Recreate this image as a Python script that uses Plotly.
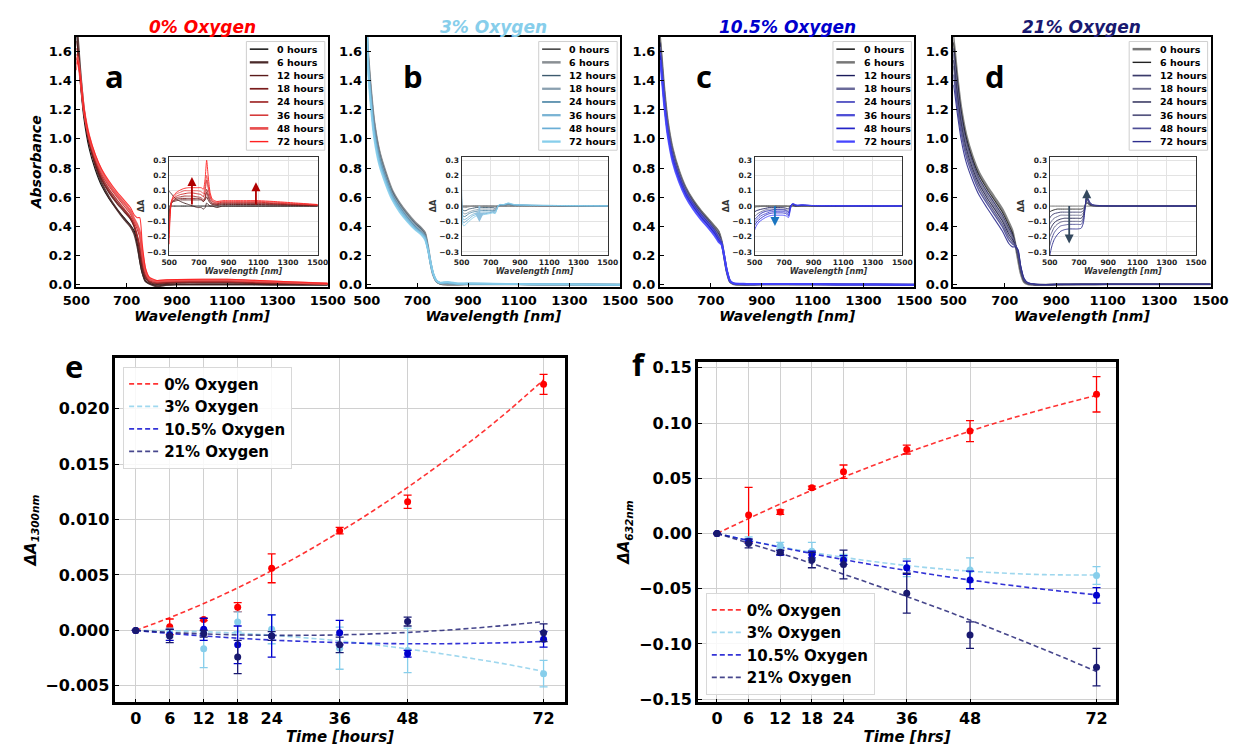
import numpy as np
import plotly.graph_objects as go

W, H = 1249, 749
FONT = "DejaVu Sans"

# ---------------- data: spectra ----------------
WL = [500, 505, 515, 530, 550, 575, 600, 630, 660, 690, 715, 730, 742, 752, 762,
      775, 790, 820, 860, 900, 1000, 1100, 1200, 1350, 1500]
TIMES = [0, 6, 12, 18, 24, 36, 48, 72]
TIME_LABELS = ["0 hours", "6 hours", "12 hours", "18 hours", "24 hours", "36 hours", "48 hours", "72 hours"]

# panel a (0% oxygen)
A0_a = [1.72, 1.62, 1.40, 1.14, 0.94, 0.79, 0.68, 0.59, 0.52, 0.46, 0.41, 0.37, 0.28, 0.16, 0.08,
        0.025, 0.008, 0.0, 0.0, 0.002, 0.003, 0.003, 0.002, 0.001, 0.0]
dA_a_6 = [0.10, 0.09, 0.08, 0.06, 0.045, 0.03, 0.02, 0.01, 0.0, -0.01, -0.01, -0.02, -0.01, 0.02, 0.01,
          0.0, 0.0, -0.01, 0.0, 0.0, 0.0, 0.0, 0.0, 0.0, 0.0]
dA_a_12 = [-0.05, 0.0, 0.02, 0.03, 0.035, 0.04, 0.04, 0.04, 0.04, 0.04, 0.04, 0.03, 0.04, 0.06, 0.04,
           0.02, 0.01, 0.005, 0.01, 0.01, 0.01, 0.01, 0.008, 0.005, 0.002]
dA_a_18 = [-0.10, -0.02, 0.02, 0.035, 0.045, 0.05, 0.05, 0.05, 0.05, 0.05, 0.045, 0.03, 0.05, 0.09, 0.06,
           0.03, 0.015, 0.01, 0.015, 0.015, 0.015, 0.015, 0.012, 0.008, 0.004]
dA_a_24 = [-0.15, -0.04, 0.02, 0.04, 0.055, 0.06, 0.065, 0.065, 0.065, 0.06, 0.055, 0.04, 0.06, 0.11, 0.08,
           0.04, 0.02, 0.015, 0.02, 0.02, 0.02, 0.02, 0.016, 0.01, 0.005]
dA_a_36 = [-0.18, -0.05, 0.03, 0.05, 0.065, 0.075, 0.08, 0.085, 0.085, 0.08, 0.075, 0.06, 0.10, 0.17, 0.12,
           0.06, 0.03, 0.02, 0.025, 0.025, 0.025, 0.025, 0.02, 0.013, 0.006]
dA_a_48 = [-0.21, -0.06, 0.03, 0.06, 0.08, 0.09, 0.10, 0.10, 0.10, 0.10, 0.095, 0.08, 0.13, 0.20, 0.14,
           0.07, 0.035, 0.025, 0.03, 0.03, 0.03, 0.03, 0.025, 0.016, 0.008]
dA_a_72 = [-0.25, -0.08, 0.03, 0.07, 0.09, 0.105, 0.115, 0.12, 0.12, 0.12, 0.12, 0.11, 0.18, 0.30, 0.20,
           0.09, 0.045, 0.03, 0.035, 0.035, 0.035, 0.035, 0.03, 0.02, 0.01]

# panel b (3% oxygen)
A0_b = [1.70, 1.60, 1.38, 1.12, 0.92, 0.77, 0.65, 0.56, 0.49, 0.43, 0.39, 0.36, 0.26, 0.15, 0.07,
        0.02, 0.005, 0.0, 0.0, 0.002, 0.002, 0.002, 0.001, 0.001, 0.0]
dA_b_6 = [0.0, -0.01, -0.01, -0.01, -0.005, 0.0, 0.0, 0.0, 0.0, 0.0, 0.0, -0.005, 0.0, 0.0, 0.0,
          0.005, 0.005, 0.005, 0.005, 0.003, 0.002, 0.002, 0.001, 0.001, 0.0]
dA_b_12 = [0.05, -0.02, -0.03, -0.03, -0.02, -0.015, -0.01, -0.01, -0.01, -0.01, -0.01, -0.015, -0.005, 0.0, 0.005,
           0.005, 0.005, 0.01, 0.005, 0.005, 0.003, 0.003, 0.002, 0.002, 0.0]
dA_b_18 = [0.10, -0.03, -0.05, -0.05, -0.04, -0.03, -0.025, -0.02, -0.02, -0.02, -0.02, -0.025, -0.01, 0.0, 0.005,
           0.005, 0.005, 0.01, 0.005, 0.005, 0.003, 0.003, 0.002, 0.002, 0.0]
dA_b_24 = [0.15, -0.05, -0.07, -0.065, -0.05, -0.04, -0.035, -0.03, -0.03, -0.03, -0.03, -0.03, -0.015, 0.0, 0.005,
           0.008, 0.008, 0.012, 0.006, 0.005, 0.004, 0.003, 0.002, 0.002, 0.001]
dA_b_36 = [0.20, -0.07, -0.09, -0.085, -0.07, -0.055, -0.045, -0.04, -0.04, -0.04, -0.035, -0.035, -0.02, 0.0, 0.008,
           0.008, 0.008, 0.015, 0.007, 0.006, 0.004, 0.003, 0.003, 0.002, 0.001]
dA_b_48 = [0.22, -0.09, -0.11, -0.10, -0.085, -0.065, -0.055, -0.05, -0.05, -0.045, -0.04, -0.045, -0.02, 0.0, 0.01,
           0.01, 0.01, 0.018, 0.008, 0.007, 0.005, 0.004, 0.003, 0.002, 0.001]
dA_b_72 = [0.25, -0.11, -0.13, -0.12, -0.10, -0.08, -0.065, -0.06, -0.055, -0.05, -0.045, -0.05, -0.02, 0.005, 0.01,
           0.01, 0.01, 0.02, 0.01, 0.008, 0.005, 0.004, 0.003, 0.002, 0.001]

# panel c (10.5% oxygen)
A0_c = [1.70, 1.60, 1.38, 1.13, 0.93, 0.78, 0.67, 0.58, 0.51, 0.45, 0.40, 0.37, 0.30, 0.19, 0.09,
        0.02, 0.005, 0.0, 0.0, 0.003, 0.003, 0.003, 0.002, 0.002, 0.0]
dA_c_6 = [-0.01, -0.01, -0.005, -0.005, 0.0, 0.0, 0.0, 0.0, 0.0, 0.0, 0.0, -0.005, 0.0, 0.005, 0.005,
          0.0, 0.0, 0.0, 0.0, 0.0, 0.0, 0.0, 0.0, 0.0, 0.0]
dA_c_12 = [-0.04, -0.035, -0.03, -0.025, -0.02, -0.015, -0.01, -0.01, -0.01, -0.01, -0.015, -0.02, 0.0, 0.01, 0.005,
           0.0, 0.0, 0.002, 0.002, 0.001, 0.0, 0.0, 0.0, 0.0, 0.0]
dA_c_18 = [-0.07, -0.065, -0.055, -0.045, -0.035, -0.025, -0.02, -0.02, -0.02, -0.02, -0.025, -0.035, -0.005, 0.01, 0.01,
           0.005, 0.002, 0.004, 0.003, 0.002, 0.001, 0.001, 0.0, 0.0, 0.0]
dA_c_24 = [-0.09, -0.085, -0.075, -0.06, -0.045, -0.035, -0.03, -0.025, -0.025, -0.025, -0.03, -0.045, -0.01, 0.01, 0.01,
           0.005, 0.003, 0.005, 0.004, 0.002, 0.001, 0.001, 0.001, 0.0, 0.0]
dA_c_36 = [-0.11, -0.10, -0.09, -0.075, -0.06, -0.05, -0.04, -0.035, -0.035, -0.035, -0.04, -0.055, -0.015, 0.01, 0.012,
           0.005, 0.004, 0.006, 0.004, 0.003, 0.002, 0.001, 0.001, 0.001, 0.0]
dA_c_48 = [-0.13, -0.12, -0.105, -0.09, -0.075, -0.06, -0.05, -0.045, -0.045, -0.045, -0.05, -0.065, -0.02, 0.012, 0.015,
           0.008, 0.005, 0.007, 0.005, 0.003, 0.002, 0.002, 0.001, 0.001, 0.0]
dA_c_72 = [-0.16, -0.145, -0.125, -0.105, -0.09, -0.075, -0.065, -0.06, -0.06, -0.06, -0.065, -0.075, -0.025, 0.012, 0.015,
           0.01, 0.005, 0.008, 0.005, 0.003, 0.002, 0.002, 0.001, 0.001, 0.0]

# panel d (21% oxygen)
A0_d = [1.70, 1.62, 1.44, 1.22, 1.03, 0.88, 0.77, 0.68, 0.60, 0.52, 0.43, 0.37, 0.27, 0.17, 0.08,
        0.02, 0.005, 0.0, 0.0, 0.002, 0.003, 0.004, 0.004, 0.004, 0.004]
dA_d_6 = [-0.04, -0.035, -0.03, -0.025, -0.02, -0.02, -0.02, -0.02, -0.02, -0.02, -0.02, -0.015, 0.0, 0.02, 0.015,
          0.005, 0.002, 0.0, 0.0, 0.0, 0.0, 0.0, 0.0, 0.0, 0.0]
dA_d_12 = [-0.08, -0.07, -0.06, -0.05, -0.045, -0.04, -0.04, -0.04, -0.04, -0.04, -0.04, -0.03, 0.0, 0.03, 0.02,
           0.008, 0.003, 0.001, 0.0, 0.0, 0.0, 0.0, 0.0, 0.0, 0.0]
dA_d_18 = [-0.12, -0.11, -0.095, -0.08, -0.07, -0.06, -0.06, -0.06, -0.06, -0.06, -0.06, -0.045, 0.0, 0.04, 0.03,
           0.01, 0.004, 0.001, 0.0, 0.0, 0.0, 0.0, 0.0, 0.0, 0.0]
dA_d_24 = [-0.16, -0.15, -0.13, -0.11, -0.095, -0.085, -0.08, -0.08, -0.08, -0.08, -0.08, -0.06, 0.0, 0.05, 0.035,
           0.012, 0.005, 0.002, 0.001, 0.0, 0.0, 0.0, 0.0, 0.0, 0.0]
dA_d_36 = [-0.20, -0.19, -0.17, -0.14, -0.12, -0.105, -0.10, -0.10, -0.10, -0.10, -0.10, -0.075, 0.0, 0.055, 0.04,
           0.015, 0.006, 0.002, 0.001, 0.001, 0.0, 0.0, 0.0, 0.0, 0.0]
dA_d_48 = [-0.26, -0.24, -0.21, -0.175, -0.15, -0.13, -0.125, -0.12, -0.12, -0.12, -0.12, -0.09, -0.005, 0.06, 0.045,
           0.02, 0.008, 0.003, 0.001, 0.001, 0.0, 0.0, 0.0, 0.0, 0.0]
dA_d_72 = [-0.33, -0.30, -0.26, -0.22, -0.19, -0.165, -0.155, -0.15, -0.15, -0.15, -0.145, -0.11, -0.01, 0.07, 0.05,
           0.025, 0.01, 0.005, 0.002, 0.001, 0.0, 0.0, 0.0, 0.0, 0.0]

# ---------------- data: kinetics ----------------
T_PTS = [0, 6, 12, 18, 24, 36, 48, 72]
T_FIT = [0, 6, 12, 18, 24, 30, 36, 42, 48, 54, 60, 66, 72]
SERIES = ["0% Oxygen", "3% Oxygen", "10.5% Oxygen", "21% Oxygen"]

e_0 = [0, 0.00033, 0.00098, 0.0021, 0.0056, 0.0090, 0.0116, 0.0222]
e_0_err = [0, 0.0007, 0.0001, 0.0004, 0.0013, 0.0003, 0.0006, 0.0009]
e_3 = [0, -0.0002, -0.00166, 0.00077, 0.0001, -0.0016, -0.0018, -0.0039]
e_3_err = [0, 0.0004, 0.0017, 0.0009, 0.0013, 0.0019, 0.0020, 0.0012]
e_10 = [0, -0.0004, 0.0001, -0.0013, -0.0005, -0.0002, -0.0021, -0.0008]
e_10_err = [0, 0.0005, 0.0010, 0.0017, 0.0019, 0.0011, 0.0003, 0.0007]
e_21 = [0, -0.0005, -0.0003, -0.0024, -0.0005, -0.0013, 0.0008, -0.0002]
e_21_err = [0, 0.0006, 0.0003, 0.0015, 0.0004, 0.0007, 0.0004, 0.0008]

e_fit_0 = [0, 0.00115, 0.00243, 0.00384, 0.00539, 0.00707, 0.0089, 0.01082, 0.0129, 0.0151, 0.0174, 0.0199, 0.0226]
e_fit_3 = [0, -0.00003, -0.00012, -0.00025, -0.00043, -0.00067, -0.00095, -0.00128, -0.00167, -0.0021, -0.00258, -0.0031, -0.0037]
e_fit_10 = [0, -0.00027, -0.0005, -0.0007, -0.00087, -0.001, -0.0011, -0.00117, -0.0012, -0.0012, -0.00116, -0.0011, -0.001]
e_fit_21 = [0, -0.00018, -0.00031, -0.0004, -0.00044, -0.00044, -0.0004, -0.00031, -0.00018, 0.0, 0.00022, 0.00049, 0.0008]

f_0 = [0, 0.0167, 0.0194, 0.0414, 0.056, 0.076, 0.0927, 0.126]
f_0_err = [0, 0.025, 0.002, 0.0015, 0.006, 0.004, 0.0095, 0.016]
f_3 = [0, -0.006, -0.011, -0.016, -0.022, -0.031, -0.033, -0.038]
f_3_err = [0, 0.003, 0.003, 0.008, 0.003, 0.008, 0.011, 0.008]
f_10 = [0, -0.007, -0.0175, -0.019, -0.024, -0.031, -0.042, -0.056]
f_10_err = [0, 0.002, 0.002, 0.003, 0.004, 0.006, 0.008, 0.007]
f_21 = [0, -0.009, -0.017, -0.024, -0.028, -0.054, -0.092, -0.121]
f_21_err = [0, 0.004, 0.002, 0.007, 0.013, 0.018, 0.012, 0.017]

f_fit_0 = [0, 0.0136, 0.0267, 0.0391, 0.051, 0.0623, 0.073, 0.0832, 0.0927, 0.1017, 0.11, 0.1178, 0.125]
f_fit_3 = [0, -0.0063, -0.0119, -0.0171, -0.0216, -0.0256, -0.029, -0.0318, -0.0341, -0.0358, -0.037, -0.0375, -0.0375]
f_fit_10 = [0, -0.0064, -0.0124, -0.0182, -0.0236, -0.0287, -0.0335, -0.038, -0.0421, -0.0459, -0.0494, -0.0526, -0.0555]
f_fit_21 = [0, -0.0087, -0.0178, -0.0271, -0.0368, -0.0467, -0.057, -0.0675, -0.0784, -0.0896, -0.1011, -0.1128, -0.125]

# ---------------- styles ----------------
COL_A = ['#000000', '#4a2a2a', '#5a1a1a', '#7a1c1c', '#a02a2a', '#d02020', '#e85050', '#ff2020']
COL_B = ['#2b2b2b', '#8a8f94', '#3d5a6e', '#8aa0b0', '#4f88a8', '#7ab4d4', '#6aaed6', '#87ceeb']
COL_C = ['#000000', '#777777', '#1a1a5a', '#6a6a9a', '#1c1cb0', '#4d4dd6', '#2424c8', '#4545ff']
COL_D = ['#777777', '#222222', '#3a3a6a', '#6a6a8c', '#20204e', '#55557f', '#4e4e96', '#2e2e8e']
WID_A = [1.1, 2.0, 1.1, 1.4, 1.4, 1.1, 2.4, 1.1]
WID_B = [1.1, 2.2, 1.1, 2.0, 1.4, 2.0, 1.4, 2.0]
WID_C = [1.1, 2.2, 1.1, 2.2, 1.1, 2.0, 1.4, 2.0]
WID_D = [2.2, 1.1, 1.4, 1.6, 1.1, 1.4, 1.4, 1.1]
KIN_COL = ['#ff0000', '#87ceeb', '#0000cd', '#191970']


def xp(px):
    return px / W


def yp(py):
    return 1 - py / H


panels = [
    dict(A0=A0_a, dA=[dA_a_6, dA_a_12, dA_a_18, dA_a_24, dA_a_36, dA_a_48, dA_a_72], col=COL_A, wid=WID_A,
         title="0% Oxygen", tcol="#ff0000", letter="a", x0=64, x1=322, ix0=159.3, ix1=311.7, lx=103,
         arrows=[(653, 0.0, 653, 0.19, '#b00000'), (1084, 0.0, 1084, 0.155, '#b00000')]),
    dict(A0=A0_b, dA=[dA_b_6, dA_b_12, dA_b_18, dA_b_24, dA_b_36, dA_b_48, dA_b_72], col=COL_B, wid=WID_B,
         title="3% Oxygen", tcol="#87ceeb", letter="b", x0=362, x1=622, ix0=459.3, ix1=609.3, lx=409,
         arrows=[(622, 0.01, 622, -0.105, '#8fc1df')]),
    dict(A0=A0_c, dA=[dA_c_6, dA_c_12, dA_c_18, dA_c_24, dA_c_36, dA_c_48, dA_c_72], col=COL_C, wid=WID_C,
         title="10.5% Oxygen", tcol="#0000cd", letter="c", x0=663, x1=924, ix0=760, ix1=911.7, lx=708,
         arrows=[(638, 0.01, 638, -0.13, '#1a75c0')]),
    dict(A0=A0_d, dA=[dA_d_6, dA_d_12, dA_d_18, dA_d_24, dA_d_36, dA_d_48, dA_d_72], col=COL_D, wid=WID_D,
         title="21% Oxygen", tcol="#191970", letter="d", x0=964, x1=1228, ix0=1063, ix1=1213, lx=1007,
         arrows=[(633, 0.01, 633, -0.245, '#34495e'), (753, 0.03, 753, 0.11, '#34495e')]),
]

TOP_Y0, TOP_Y1 = 34, 287.5
INS_Y0, INS_Y1 = 156, 255

fig = go.Figure()
layout = dict(width=W, height=H, autosize=False, margin=dict(l=0, r=0, t=0, b=0),
              paper_bgcolor='white', plot_bgcolor='white', showlegend=True)
shapes = []
annotations = []

tickfont_main = dict(family=FONT, size=13, color='black', weight='bold')
tickfont_ins = dict(family=FONT, size=7.5, color='#222222', weight='bold')

for i, p in enumerate(panels):
    n = i + 1
    ni = i + 5
    xa = 'x' if n == 1 else f'x{n}'
    ya = 'y' if n == 1 else f'y{n}'
    xi, yi = f'x{ni}', f'y{ni}'
    A0 = np.array(p['A0'])
    dlist = [A0 - A0] + [np.array(d) for d in p['dA']]
    for k, t in enumerate(TIMES):
        fig.add_trace(go.Scatter(x=WL, y=A0 + dlist[k], mode='lines', xaxis=xa, yaxis=ya,
                                 line=dict(color=p['col'][k], width=p['wid'][k], shape='spline', smoothing=0.6),
                                 opacity=0.9, showlegend=False, name=TIME_LABELS[k], hoverinfo='skip'))
    for k, t in enumerate(TIMES):
        fig.add_trace(go.Scatter(x=WL, y=dlist[k], mode='lines', xaxis=xi, yaxis=yi,
                                 line=dict(color=p['col'][k], width=1.0, shape='spline', smoothing=0.6),
                                 opacity=0.9, showlegend=False, name=TIME_LABELS[k], hoverinfo='skip'))
    # main axes
    layout['xaxis' if n == 1 else f'xaxis{n}'] = dict(
        domain=[xp(p['x0']), xp(p['x1'])], anchor=ya, range=[500, 1500],
        tickvals=[500, 700, 900, 1100, 1300, 1500], showline=True, linewidth=2, linecolor='black',
        mirror=True, ticks='inside', ticklen=4, tickcolor='black', showgrid=False, zeroline=False,
        tickfont=tickfont_main,
        title=dict(text='<b><i>Wavelength [nm]</i></b>', font=dict(family=FONT, size=14, color='black'), standoff=2))
    ydict = dict(domain=[yp(TOP_Y1), yp(TOP_Y0)], anchor=xa, range=[-0.015, 1.70],
                 tickvals=[0, 0.2, 0.4, 0.6, 0.8, 1.0, 1.2, 1.4, 1.6], tickformat='.1f',
                 showline=True, linewidth=2, linecolor='black', mirror=True, ticks='inside', ticklen=4,
                 tickcolor='black', showgrid=False, zeroline=False, tickfont=tickfont_main)
    if n == 1:
        ydict['title'] = dict(text='<b><i>Absorbance</i></b>', font=dict(family=FONT, size=14, color='black'),
                              standoff=4)
    layout['yaxis' if n == 1 else f'yaxis{n}'] = ydict
    # inset axes
    layout[f'xaxis{ni}'] = dict(
        domain=[xp(p['ix0']), xp(p['ix1'])], anchor=yi, range=[500, 1500],
        tickvals=[500, 700, 900, 1100, 1300, 1500], showline=True, linewidth=1.3, linecolor='#333333',
        mirror=True, ticks='', showgrid=True, gridcolor='#e3e3e3', gridwidth=1, zeroline=False,
        tickfont=tickfont_ins,
        title=dict(text='<b><i>Wavelength [nm]</i></b>', font=dict(family=FONT, size=8, color='#333333'),
                   standoff=1))
    layout[f'yaxis{ni}'] = dict(
        domain=[yp(INS_Y1), yp(INS_Y0)], anchor=xi, range=[-0.32, 0.32],
        tickvals=[-0.3, -0.2, -0.1, 0, 0.1, 0.2, 0.3], tickformat='.1f', showline=True, linewidth=1.3,
        linecolor='#333333', mirror=True, ticks='', showgrid=True, gridcolor='#e3e3e3', gridwidth=1,
        zeroline=False, tickfont=tickfont_ins,
        title=dict(text='<b>ΔA</b>', font=dict(family=FONT, size=8, color='#333333'), standoff=1))
    # arrows
    for (tx, ty, hx, hy, c) in p['arrows']:
        annotations.append(dict(x=hx, y=hy, ax=tx, ay=ty, xref=xi, yref=yi, axref=xi, ayref=yi,
                                showarrow=True, arrowhead=2, arrowsize=1.0, arrowwidth=1.8, arrowcolor=c,
                                text=''))
    # panel title
    annotations.append(dict(x=xp((p['x0'] + p['x1']) / 2), y=yp(24), xref='paper', yref='paper',
                            text=f"<b><i>{p['title']}</i></b>", showarrow=False, xanchor='center',
                            yanchor='middle', font=dict(family=FONT, size=17, color=p['tcol'])))
    # panel letter
    annotations.append(dict(x=xp(p['lx']), y=yp(74), xref='paper', yref='paper', text=f"<b>{p['letter']}</b>",
                            showarrow=False, xanchor='center', yanchor='middle',
                            font=dict(family='Open Sans', size=31, color='black')))
    # custom legend box
    bx1 = p['x1'] - 3.0
    bx0 = bx1 - 80.5
    shapes.append(dict(type='rect', xref='paper', yref='paper', x0=xp(bx0), x1=xp(bx1), y0=yp(149), y1=yp(39),
                       fillcolor='white', line=dict(color='#cfcfcf', width=1), layer='above'))
    for k, lab in enumerate(TIME_LABELS):
        yy = 46.7 + 13.37 * k
        shapes.append(dict(type='line', xref='paper', yref='paper', x0=xp(bx0 + 3.5), x1=xp(bx0 + 22.5),
                           y0=yp(yy), y1=yp(yy), line=dict(color=p['col'][k], width=p['wid'][k] + 0.3),
                           layer='above'))
        annotations.append(dict(x=xp(bx0 + 29.5), y=yp(yy), xref='paper', yref='paper', text=f"<b>{lab}</b>",
                                showarrow=False, xanchor='left', yanchor='middle',
                                font=dict(family=FONT, size=9.5, color='black')))

# ---------------- kinetics panels ----------------
kin = [
    dict(ax='9', data=[e_0, e_3, e_10, e_21], err=[e_0_err, e_3_err, e_10_err, e_21_err],
         fit=[e_fit_0, e_fit_3, e_fit_10, e_fit_21], legend='legend5'),
    dict(ax='10', data=[f_0, f_3, f_10, f_21], err=[f_0_err, f_3_err, f_10_err, f_21_err],
         fit=[f_fit_0, f_fit_3, f_fit_10, f_fit_21], legend='legend6'),
]
for kp in kin:
    for s in range(4):
        fig.add_trace(go.Scatter(x=T_FIT, y=kp['fit'][s], mode='lines', xaxis='x' + kp['ax'], yaxis='y' + kp['ax'],
                                 line=dict(color=KIN_COL[s], width=1.6, dash='5px,3px', shape='spline'),
                                 opacity=0.8, name=SERIES[s], legend=kp['legend'], showlegend=True))
    for s in range(4):
        errs = [None if v == 0 else v for v in kp['err'][s]]
        fig.add_trace(go.Scatter(x=T_PTS, y=kp['data'][s], mode='markers', xaxis='x' + kp['ax'],
                                 yaxis='y' + kp['ax'], marker=dict(color=KIN_COL[s], size=7),
                                 error_y=dict(type='data', array=errs, color=KIN_COL[s], thickness=1.3, width=4),
                                 name=SERIES[s], showlegend=False))

bottom_x = dict(range=[-3.6, 75.7], tickvals=T_PTS, showline=True, linewidth=2.6, linecolor='black', mirror=True,
                ticks='inside', ticklen=4, tickcolor='black', showgrid=True, gridcolor='#d0d0d0', gridwidth=1,
                zeroline=False, tickfont=dict(family=FONT, size=16, color='black', weight='bold'))
bottom_y = dict(showline=True, linewidth=2.6, linecolor='black', mirror=True, ticks='inside', ticklen=4,
                tickcolor='black', showgrid=True, gridcolor='#d0d0d0', gridwidth=1, zeroline=False,
                tickfont=dict(family=FONT, size=16, color='black', weight='bold'))

layout['xaxis9'] = dict(bottom_x, domain=[xp(104), xp(565)], anchor='y9',
                        title=dict(text='<b><i>Time [hours]</i></b>', font=dict(family=FONT, size=15, color='black'),
                                   standoff=4))
layout['yaxis9'] = dict(bottom_y, domain=[yp(708), yp(359)], anchor='x9', range=[-0.0065, 0.0246],
                        tickvals=[-0.005, 0, 0.005, 0.01, 0.015, 0.02], tickformat='.3f',
                        title=dict(text='<b><i>ΔA</i><sub><i>1300nm</i></sub></b>',
                                   font=dict(family=FONT, size=15, color='black'), standoff=6))
layout['xaxis10'] = dict(bottom_x, domain=[xp(702), xp(1131)], anchor='y10',
                         title=dict(text='<b><i>Time [hrs]</i></b>', font=dict(family=FONT, size=15, color='black'),
                                    standoff=4))
layout['yaxis10'] = dict(bottom_y, domain=[yp(708), yp(363)], anchor='x10', range=[-0.153, 0.1556],
                         tickvals=[-0.15, -0.1, -0.05, 0, 0.05, 0.1, 0.15], tickformat='.2f',
                         title=dict(text='<b><i>ΔA</i><sub><i>632nm</i></sub></b>',
                                    font=dict(family=FONT, size=15, color='black'), standoff=6))

leg_common = dict(bgcolor='rgba(255,255,255,0.85)', bordercolor='#d8d8d8', borderwidth=1,
                  font=dict(family=FONT, size=15, color='black', weight='bold'), tracegroupgap=0,
                  itemwidth=30, xref='paper', yref='paper')
layout['legend5'] = dict(leg_common, x=xp(112), y=yp(368), xanchor='left', yanchor='top')
layout['legend6'] = dict(leg_common, x=xp(710), y=yp(700), xanchor='left', yanchor='bottom')

annotations.append(dict(x=xp(62), y=yp(367), xref='paper', yref='paper', text='<b>e</b>', showarrow=False,
                        xanchor='center', yanchor='middle', font=dict(family='Open Sans', size=31, color='black')))
annotations.append(dict(x=xp(641), y=yp(365), xref='paper', yref='paper', text='<b>f</b>', showarrow=False,
                        xanchor='center', yanchor='middle', font=dict(family='Open Sans', size=31, color='black')))

layout['shapes'] = shapes
layout['annotations'] = annotations
fig.update_layout(**layout)
fig.write_html("out.html")
